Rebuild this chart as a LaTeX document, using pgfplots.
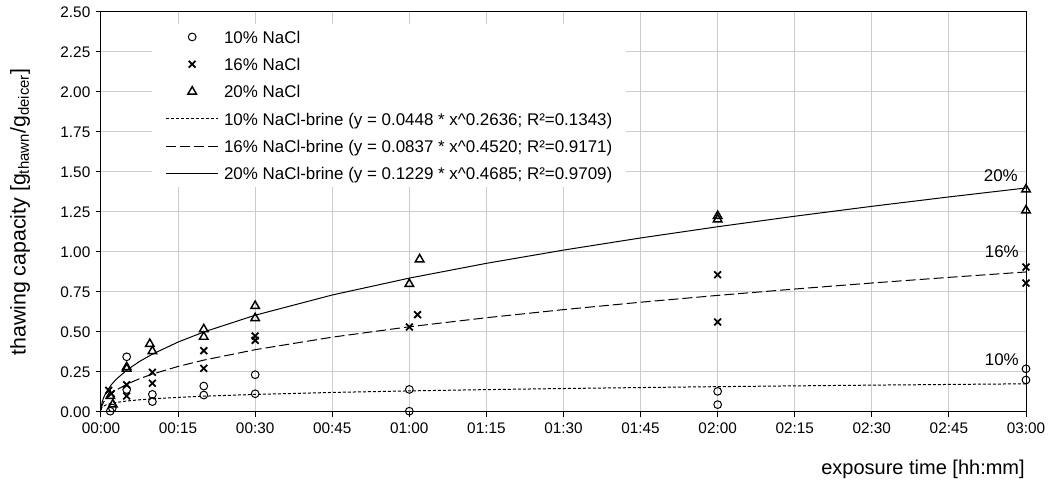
\documentclass[border=0pt]{standalone}
\usepackage{fontspec}
\setmainfont{Liberation Sans}
\usepackage{pgfplots}
\pgfplotsset{compat=1.18}
\begin{document}
\fontsize{11.5pt}{13.8pt}\selectfont
\begin{tikzpicture}
\path[use as bounding box] (0,0) rectangle (788.25pt,363pt);
\begin{axis}[
  at={(75.75pt,54pt)}, anchor=south west,
  scale only axis, width=693.75pt, height=300pt,
  xmin=0, xmax=180, ymin=0, ymax=2.5,
  clip=false,
  xtick={0,15,30,45,60,75,90,105,120,135,150,165,180},
  xticklabels={00:00,00:15,00:30,00:45,01:00,01:15,01:30,01:45,02:00,02:15,02:30,02:45,03:00},
  ytick={0,0.25,0.5,0.75,1,1.25,1.5,1.75,2,2.25,2.5},
  yticklabels={0.00,0.25,0.50,0.75,1.00,1.25,1.50,1.75,2.00,2.25,2.50},
  xtick pos=left, ytick pos=left,
  tick align=outside, major tick length=4pt,
  tick style={black, line width=0.75pt},
  axis line style={black, line width=0.75pt},
  grid=major, major grid style={gray!40, line width=0.75pt},
  legend cell align=left,
  legend style={draw=none, fill=white, at={(0.0548,0.9718)}, anchor=north west,
    inner xsep=10pt, inner ysep=5.5pt, row sep=11.4pt, column sep=3.75pt,
    font=\fontsize{12.7pt}{15pt}\selectfont,
    nodes={inner sep=0pt, text height=9.1pt, text depth=0pt}},
  legend image code/.code={\path (0pt,-1pt) (39pt,1pt);
    \draw[mark repeat=2,mark phase=2,#1] plot coordinates {(0pt,0pt) (19.5pt,0pt) (39pt,0pt)};},
]
\addplot[only marks, mark=o, mark size=2.9pt, black, line width=0.75pt] coordinates {
(1.8,0.005) (2.2,0.025) (5,0.345) (5,0.14) (10,0.11) (10,0.065) (20,0.162) (20,0.106)
(30,0.233) (30,0.114) (60,0.141) (60,0.005) (120,0.129) (120,0.046) (180,0.27) (180,0.20)};
\addlegendentry{10\% NaCl}
\addplot[only marks, mark=x, mark size=3.6pt, black, line width=1.35pt] coordinates {
(1.5,0.135) (2,0.115) (5,0.17) (5,0.10) (10,0.248) (10,0.18) (20,0.383) (20,0.273)
(30,0.475) (30,0.448) (60,0.531) (61.6,0.608) (120,0.858) (120,0.5625) (180,0.906) (180,0.806)};
\addlegendentry{16\% NaCl}
\addplot[only marks, mark=triangle, mark size=3.7pt, black, line width=1.1pt] coordinates {
(1.8,0.100) (2.3,0.047) (5,0.27) (5,0.28) (9.5,0.425) (10,0.38) (20,0.517) (20,0.47)
(30,0.6625) (30,0.586) (60,0.80) (62,0.954) (120,1.225) (120,1.204) (180,1.391) (180,1.26)};
\addlegendentry{20\% NaCl}
\addplot[black, line width=0.75pt, dash pattern=on 2.25pt off 1.5pt] coordinates {
(0.01,0.0133) (0.05,0.0203) (0.1,0.0244) (0.2,0.0293) (0.5,0.0373) (1,0.0448) (2,0.0538)
(3,0.0598) (5,0.0685) (7.5,0.0762) (10,0.0822) (15,0.0915) (20,0.0987) (30,0.1098)
(45,0.1222) (60,0.1318) (75,0.1398) (90,0.1467) (105,0.1528) (120,0.1583) (135,0.1632)
(150,0.1678) (165,0.1721) (180,0.1761)};
\addlegendentry{10\% NaCl-brine (y = 0.0448 * x\textasciicircum 0.2636; R²=0.1343)}
\addplot[black, line width=0.75pt, dash pattern=on 7.5pt off 3pt] coordinates {
(0.01,0.0104) (0.05,0.0216) (0.1,0.0296) (0.2,0.0404) (0.5,0.0612) (1,0.0837) (2,0.1145)
(3,0.1375) (5,0.1732) (7.5,0.2081) (10,0.2370) (15,0.2847) (20,0.3242) (30,0.3894)
(45,0.4677) (60,0.5326) (75,0.5892) (90,0.6398) (105,0.6860) (120,0.7287) (135,0.7685)
(150,0.8060) (165,0.8414) (180,0.8752)};
\addlegendentry{16\% NaCl-brine (y = 0.0837 * x\textasciicircum 0.4520; R²=0.9171)}
\addplot[black, line width=0.75pt] coordinates {
(0.01,0.0142) (0.05,0.0302) (0.1,0.0418) (0.2,0.0578) (0.5,0.0888) (1,0.1229) (2,0.1701)
(3,0.2056) (5,0.2612) (7.5,0.3159) (10,0.3615) (15,0.4371) (20,0.5001) (30,0.6048)
(45,0.7313) (60,0.8368) (75,0.9291) (90,1.0118) (105,1.0877) (120,1.1578) (135,1.2235)
(150,1.2854) (165,1.3441) (180,1.4001)};
\addlegendentry{20\% NaCl-brine (y = 0.1229 * x\textasciicircum 0.4685; R²=0.9709)}
\node[font=\fontsize{12.7pt}{15pt}\selectfont] at (axis cs:175.1,1.475) {20\%};
\node[font=\fontsize{12.7pt}{15pt}\selectfont] at (axis cs:175.3,1.0) {16\%};
\node[font=\fontsize{12.7pt}{15pt}\selectfont] at (axis cs:175.3,0.325) {10\%};
\end{axis}
\node[rotate=90, font=\fontsize{16pt}{19pt}\selectfont] at (15pt,204pt) {thawing capacity [g\textsubscript{thawn}/g\textsubscript{deicer}]};
\node[anchor=east, inner sep=0pt, font=\fontsize{15pt}{18pt}\selectfont] at (768.75pt,11.25pt) {exposure time [hh:mm]};
\end{tikzpicture}
\end{document}
